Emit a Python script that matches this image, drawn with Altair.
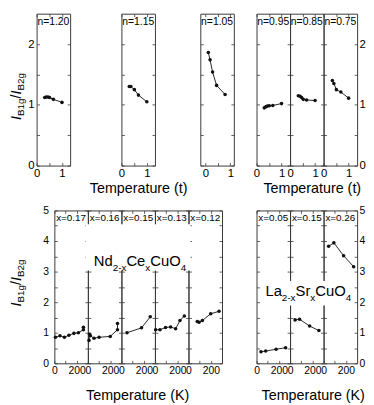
import altair as alt
import pandas as pd

# ---------------- data ----------------
top_labels = ["n=1.20", "n=1.15", "n=1.05", "n=0.95", "n=0.85", "n=0.75"]
top_t = [
    [0.32, 0.38, 0.45, 0.51, 0.66, 1.00],
    [0.31, 0.37, 0.51, 0.67, 1.00],
    [0.12, 0.19, 0.29, 0.45, 0.79],
    [0.31, 0.38, 0.44, 0.51, 0.65, 1.00],
    [0.33, 0.40, 0.46, 0.53, 0.66, 1.00],
    [0.35, 0.41, 0.51, 0.69, 1.00],
]
top_ratio = [
    [1.12, 1.13, 1.13, 1.12, 1.09, 1.04],
    [1.30, 1.30, 1.25, 1.16, 1.05],
    [1.86, 1.74, 1.54, 1.32, 1.17],
    [0.95, 0.97, 0.98, 0.985, 0.99, 1.02],
    [1.15, 1.14, 1.12, 1.09, 1.08, 1.07],
    [1.40, 1.35, 1.25, 1.21, 1.11],
]
nd_labels = ["x=0.17", "x=0.16", "x=0.15", "x=0.13", "x=0.12"]
nd_T = [
    [10, 50, 90, 130, 175, 215, 260, 260],
    [10, 15, 22, 55, 100, 200, 265, 265],
    [50, 180, 258],
    [6, 45, 95, 140, 185, 224, 263],
    [79, 94, 124, 199, 273],
]
nd_ratio = [
    [0.85, 0.90, 0.85, 0.92, 0.98, 1.00, 1.10, 1.18],
    [0.75, 0.95, 0.90, 0.82, 0.85, 0.88, 1.10, 1.30],
    [1.00, 1.16, 1.52],
    [1.10, 1.10, 1.17, 1.19, 1.13, 1.40, 1.55],
    [1.37, 1.34, 1.40, 1.62, 1.70],
]
la_labels = ["x=0.05", "x=0.15", "x=0.26"]
la_T = [[40, 82, 175, 260], [45, 85, 175, 258], [45, 92, 179, 269]]
la_ratio = [[0.38, 0.40, 0.46, 0.51], [1.42, 1.44, 1.22, 1.07], [3.83, 3.94, 3.52, 3.16]]

y_title_parts = ["I", "B1g", "/", "I", "B2g"]
nd_formula = ["Nd", "2-x", "Ce", "x", "CuO", "4"]
la_formula = ["La", "2-x", "Sr", "x", "CuO", "4"]
x_title_top = "Temperature (t)"
x_title_bottom = "Temperature (K)"

# ---------------- styling ----------------
FONT = "Liberation Sans"
INK = "#111111"
FRAME = "#3a3a3a"
PW = 34              # panel width
TOP_H, BOT_H = 154, 155

ARIAL = {'I': 278, 'B': 667, '1': 556, '2': 556, 'g': 556, '/': 278, 'N': 722, 'd': 556,
         '-': 333, 'x': 500, 'C': 722, 'e': 556, 'u': 556, 'O': 778, '4': 556, 'L': 556,
         'a': 556, 'S': 667, 'r': 333}


def tw(s, size):
    return sum(ARIAL[c] for c in s) / 1000.0 * size


def make_axis(orient, values, shown, with_labels, size, pad, title=None, title_x=None, title_y=None):
    kw = dict(orient=orient, values=values, offset=-3, tickSize=3, tickColor=FRAME,
              tickWidth=0.8, domain=False, grid=False, labelFlush=False, labelOverlap=False,
              labelFont=FONT, labelFontSize=size, labelColor="black", labelPadding=pad,
              format="~r", title=title)
    if with_labels:
        cond = " || ".join(f"datum.value == {v}" for v in shown)
        kw["labelExpr"] = f"({cond}) ? datum.label : ''"
    else:
        kw["labels"] = False
    if title is not None:
        kw.update(titleFont=FONT, titleFontSize=14.5, titleFontWeight="normal",
                  titleColor="black", titleBaseline="alphabetic", titleAlign="center",
                  titleX=title_x, titleY=title_y)
    return alt.Axis(**kw)


def make_panel(xs, ys, label, xdom, xticks, xshown, ydom, yticks, yshown, h, tick_size,
               ypad_left, left_labels, right_labels, label_y, label_size,
               xtitle=None, title_x=None, title_y=None, extras=()):
    df = pd.DataFrame({"x": xs, "r": ys, "i": list(range(len(xs)))})
    xsc = alt.Scale(domain=xdom, nice=False, zero=False)
    ysc = alt.Scale(domain=ydom, nice=False, zero=False)
    main = alt.Chart(df).mark_line(
        color=INK, strokeWidth=0.9,
        point=alt.OverlayMarkDef(filled=True, color=INK, size=13, opacity=1),
    ).encode(
        x=alt.X("x:Q", scale=xsc,
                axis=make_axis("bottom", xticks, xshown, True, tick_size, 2,
                               xtitle, title_x, title_y)),
        y=alt.Y("r:Q", scale=ysc,
                axis=make_axis("left", yticks, yshown, left_labels, tick_size, ypad_left)),
        order="i:Q",
    )
    ghost = alt.Chart(df).mark_point(opacity=0).encode(
        x=alt.X("x:Q", scale=xsc, axis=make_axis("top", xticks, xshown, False, tick_size, 2)),
        y=alt.Y("r:Q", scale=ysc,
                axis=make_axis("right", yticks, yshown, right_labels, tick_size, 2)),
    )
    tag = alt.Chart(pd.DataFrame({"s": [label]})).mark_text(
        font=FONT, fontSize=label_size, align="center", baseline="middle", color="black"
    ).encode(x=alt.value(PW / 2), y=alt.value(label_y), text="s:N")
    return alt.layer(main, ghost, tag, *extras).resolve_axis(
        x="independent", y="independent").properties(width=PW, height=h)


def spacer(w, h):
    return alt.Chart(pd.DataFrame({"v": [0]})).mark_point(opacity=0).encode(
        x=alt.value(0), y=alt.value(0)
    ).properties(width=w, height=h, view=alt.ViewBackground(strokeOpacity=0, fillOpacity=0))


def y_title(anchor_x, center_y):
    main_s, sub_s, sub_dy = 14.5, 10, 3.5
    kinds = ["main", "sub", "main", "main", "sub"]
    sizes = [main_s if k == "main" else sub_s for k in kinds]
    total = sum(tw(p, s) for p, s in zip(y_title_parts, sizes))
    base_y = center_y + total / 2
    layers, cum = [], 0.0
    for p, k, s in zip(y_title_parts, kinds, sizes):
        layers.append(alt.Chart(pd.DataFrame({"s": [p]})).mark_text(
            font=FONT, fontSize=s, angle=270, align="left", baseline="alphabetic",
            fontStyle="italic" if p == "I" else "normal", color="black",
            dx=cum, dy=sub_dy if k == "sub" else 0,
        ).encode(x=alt.value(anchor_x), y=alt.value(base_y), text="s:N"))
        cum += tw(p, s)
    return layers


def formula(parts, anchor_x, base_y):
    layers, cum = [], 0.0
    for j, p in enumerate(parts):
        sub = j % 2 == 1
        s = 10 if sub else 15
        layers.append(alt.Chart(pd.DataFrame({"s": [p]})).mark_text(
            font=FONT, fontSize=s, align="left", baseline="alphabetic", color="black",
            dx=cum, dy=5 if sub else 0,
        ).encode(x=alt.value(anchor_x), y=alt.value(base_y), text="s:N"))
        cum += tw(p, s)
    return layers


def white_box(x0, x1, y0, y1):
    return alt.Chart(pd.DataFrame({"v": [0]})).mark_rect(color="white").encode(
        x=alt.value(x0), x2=alt.value(x1), y=alt.value(y0), y2=alt.value(y1))


# ---------------- top row ----------------
top_dom = [[0, 1.32], [0, 1.32], [-0.2, 1.14], [0, 1.34], [0, 1.34], [0, 1.34]]
top_y_ticks = [0, 0.5, 1, 1.5, 2]
top_cells = []
for k in range(6):
    extras = tuple(y_title(-16, 84)) if k == 0 else ()
    xt, tx, ty = None, None, None
    if k == 1:
        xt, tx, ty = x_title_top, 17, 30
    if k == 4:
        xt, tx, ty = x_title_top, 22, 30
    top_cells.append(make_panel(
        top_t[k], top_ratio[k], top_labels[k], top_dom[k], [0, 0.5, 1], [0, 1],
        [0, 2.5], top_y_ticks, [0, 1, 2], TOP_H, 11.5, 2.5,
        left_labels=(k == 0), right_labels=(k == 5), label_y=8, label_size=10.5,
        xtitle=xt, title_x=tx, title_y=ty, extras=extras))

row_top = alt.hconcat(
    top_cells[0], spacer(52, TOP_H), top_cells[1], spacer(46, TOP_H), top_cells[2],
    spacer(23, TOP_H), top_cells[3], top_cells[4], top_cells[5],
    spacing=0, bounds="flush")

# ---------------- bottom row ----------------
bot_x_ticks = [0, 100, 200]
bot_y_ticks = [0, 0.5, 1, 1.5, 2, 2.5, 3, 3.5, 4, 4.5, 5]
nd_cells = []
for k in range(5):
    extras = ()
    if k == 0:
        extras = tuple(y_title(-34, 73.5))
    if k == 4:
        extras = (white_box(-104, 2, 14, 61),) + tuple(formula(nd_formula, -96, 56.5))
    xt, tx, ty = (x_title_bottom, 16, 39.5) if k == 2 else (None, None, None)
    nd_cells.append(make_panel(
        nd_T[k], nd_ratio[k], nd_labels[k], [0, 300], bot_x_ticks, [0, 200],
        [0, 5], bot_y_ticks, [0, 1, 2, 3, 4, 5], BOT_H, 10.5, 6,
        left_labels=(k == 0), right_labels=False, label_y=7.5, label_size=10,
        xtitle=xt, title_x=tx, title_y=ty, extras=extras))

la_cells = []
for k in range(3):
    extras = ()
    if k == 2:
        extras = (white_box(-63, 29, 71.5, 96.5),) + tuple(formula(la_formula, -59, 86.5))
    xt, tx, ty = (x_title_bottom, 23, 39.5) if k == 1 else (None, None, None)
    la_cells.append(make_panel(
        la_T[k], la_ratio[k], la_labels[k], [0, 300], bot_x_ticks, [0, 200],
        [0, 5], bot_y_ticks, [0, 1, 2, 3, 4, 5], BOT_H, 10.5, 6,
        left_labels=False, right_labels=(k == 2), label_y=7.5, label_size=10,
        xtitle=xt, title_x=tx, title_y=ty, extras=extras))

row_bot = alt.hconcat(spacer(18, BOT_H), *nd_cells, spacer(35, BOT_H), *la_cells,
                      spacing=0, bounds="flush")

chart = alt.vconcat(row_top, row_bot, spacing=9.5).properties(padding=0).configure(
    font=FONT, view=alt.ViewConfig(stroke=FRAME, strokeWidth=1))

chart.save("out.html", embed_options={"renderer": "svg", "actions": False})
